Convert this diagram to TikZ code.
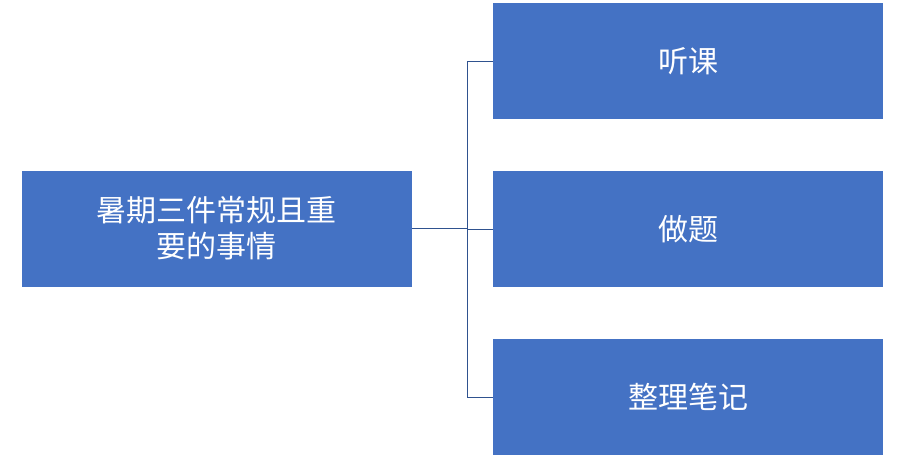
\documentclass[tikz,border=0pt]{standalone}
\usepackage{fontspec}
\newfontfamily\cjk{Noto Sans CJK SC}
\definecolor{boxblue}{HTML}{4472C4}
\definecolor{linkblue}{HTML}{2F528F}
\begin{document}
\begin{tikzpicture}[x=1pt,y=-1pt,
	topic/.style={fill=boxblue,text=white,minimum width=390pt,minimum height=116pt,inner sep=0pt,font=\cjk\fontsize{30}{36}\selectfont,align=center},
	link/.style={draw=linkblue,line width=0.6pt}]
	\useasboundingbox (0,0) rectangle (906,459);
	\node [topic,text width=380pt] (root) at (217,228.5) {暑期三件常规且重\\要的事情};
	\node [topic] (t1) at (688,61) {听课};
	\node [topic] (t2) at (688,229) {做题};
	\node [topic] (t3) at (688,397) {整理笔记};
	\coordinate (fork) at (467,228.5);
	\draw [link] (root.east) -- (fork);
	\foreach \t in {t1,t2,t3} {
		\draw [link] (fork) |- (\t.west);
	}
\end{tikzpicture}
\end{document}
